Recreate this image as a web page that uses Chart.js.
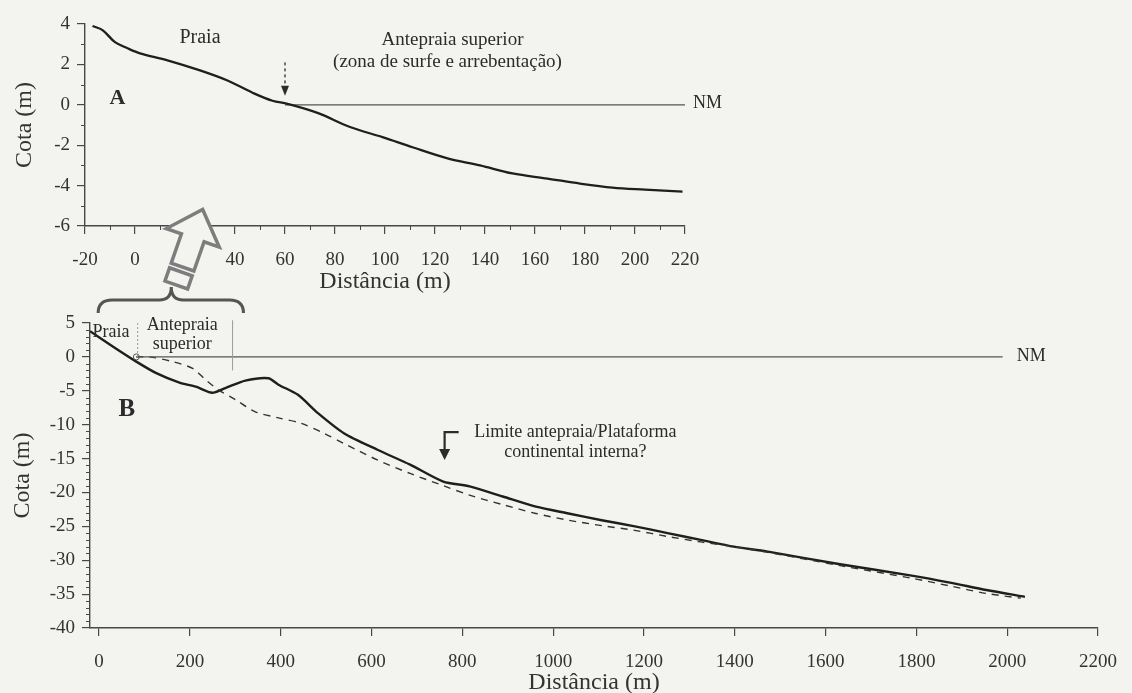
<!DOCTYPE html>
<html>
<head>
<meta charset="utf-8">
<script src="https://cdn.jsdelivr.net/npm/chart.js@4.4.1/dist/chart.umd.min.js"></script>
<style>
  html, body { margin: 0; padding: 0; background: #f3f4f0; }
  #wrap { position: relative; width: 1132px; height: 693px; overflow: hidden; }
  #wrap canvas { position: absolute; left: 0; top: 0; }
</style>
</head>
<body>
<div id="wrap">
  <canvas id="chartA" width="1132" height="693"></canvas>
  <canvas id="chartB" width="1132" height="693"></canvas>
</div>
<script>
// ── Perfil A: praia / antepraia superior ──
var distA = [-17, -13, -8, -3, 2, 13, 26, 37, 47, 55, 61, 73, 86, 99, 111, 125, 138, 151, 165, 178, 191, 204, 219];
var cotaA = [3.9, 3.7, 3.1, 2.8, 2.55, 2.2, 1.7, 1.2, 0.6, 0.2, 0.05, -0.4, -1.1, -1.6, -2.1, -2.65, -3.0, -3.4, -3.65, -3.9, -4.1, -4.2, -4.3];
var nmDistA = [60, 220];
var nmCotaA = [0, 0];
var xTicksA = [-20, 0, 20, 40, 60, 80, 100, 120, 140, 160, 180, 200, 220];
var xMinorA = [-10, 10, 30, 50, 70, 90, 110, 130, 150, 170, 190, 210];
var yTicksA = [-6, -4, -2, 0, 2, 4];
var yMinorA = [-5, -3, -1, 1, 3];

// ── Perfil B: até a plataforma interna ──
var distB = [-20, 31, 82, 126, 177, 213, 249, 278, 322, 373, 395, 438, 482, 540, 613, 685, 758, 816, 889, 962, 1034, 1107, 1180, 1252, 1325, 1398, 1470, 1632, 1793, 1874, 1954, 2039];
var cotaB = [3.8, 1.5, -0.7, -2.4, -3.8, -4.4, -5.3, -4.6, -3.5, -3.15, -4.1, -5.6, -8.3, -11.3, -13.7, -15.9, -18.4, -19.1, -20.6, -22.1, -23.1, -24.1, -25.0, -26.0, -27.0, -28.0, -28.7, -30.6, -32.3, -33.3, -34.4, -35.4];
// perfil tracejado
var distB2 = [82, 111, 162, 206, 235, 264, 300, 344, 395, 445, 496, 540, 613, 685, 758, 816, 889, 962, 1034, 1107, 1180, 1252, 1325, 1398, 1470, 1632, 1793, 1874, 1954, 2030];
var cotaB2 = [0, 0, -0.7, -1.7, -3.4, -4.9, -6.3, -8.1, -9.0, -9.8, -11.3, -12.8, -15.2, -17.2, -19.0, -20.4, -21.8, -23.1, -24.1, -24.9, -25.6, -26.5, -27.3, -28.0, -28.8, -30.8, -32.7, -33.8, -34.9, -35.6];
var nmDistB = [82, 1990];
var nmCotaB = [0, 0];
var xTicksB = [0, 200, 400, 600, 800, 1000, 1200, 1400, 1600, 1800, 2000, 2200];
var yTicksB = [-40, -35, -30, -25, -20, -15, -10, -5, 0, 5];
var yMinorB = [-39, -38, -37, -36, -34, -33, -32, -31, -29, -28, -27, -26, -24, -23, -22, -21,
               -19, -18, -17, -16, -14, -13, -12, -11, -9, -8, -7, -6, -4, -3, -2, -1, 1, 2, 3, 4];

var FONT = 'Liberation Serif';
var INK = '#2b2b2b';
var AXIS = '#474747';
var BG = '#f3f4f0';

function pts(xs, ys) {
  return xs.map(function(x, i) { return { x: x, y: ys[i] }; });
}

function label(ctx, text, x, y, size, align, bold) {
  ctx.save();
  ctx.fillStyle = INK;
  ctx.font = (bold ? 'bold ' : '') + size + 'px "' + FONT + '"';
  ctx.textAlign = align || 'center';
  ctx.textBaseline = 'middle';
  ctx.fillText(text, x, y);
  ctx.restore();
}

function arrowHead(ctx, x, y, w, h) {
  // ponta para baixo em (x, y)
  ctx.beginPath();
  ctx.moveTo(x, y);
  ctx.lineTo(x - w / 2, y - h);
  ctx.lineTo(x + w / 2, y - h);
  ctx.closePath();
  ctx.fill();
}

// ── marcas secundárias (mais curtas) ──
function minorTicks(chart, xList, yList) {
  var ctx = chart.ctx, xs = chart.scales.x, ys = chart.scales.y;
  ctx.save();
  ctx.strokeStyle = AXIS;
  ctx.lineWidth = 1;
  ctx.beginPath();
  xList.forEach(function(v) {
    var p = Math.round(xs.getPixelForValue(v)) + 0.5;
    ctx.moveTo(p, ys.bottom);
    ctx.lineTo(p, ys.bottom + 4);
  });
  yList.forEach(function(v) {
    var p = Math.round(ys.getPixelForValue(v)) + 0.5;
    ctx.moveTo(xs.left, p);
    ctx.lineTo(xs.left - 4, p);
  });
  ctx.stroke();
  ctx.restore();
}

// ── eixo comum ──
function axis(min, max, tickList, title, isX, size, titlePad) {
  return {
    type: 'linear',
    min: min,
    max: max,
    afterBuildTicks: function(s) { s.ticks = tickList.map(function(v) { return { value: v }; }); },
    afterFit: function(s) { if (isX) { s.height = size; } else { s.width = size; } },
    border: { display: true, color: AXIS, width: 1.4 },
    grid: { drawOnChartArea: false, drawTicks: true, tickLength: 8, color: AXIS, lineWidth: 1.2 },
    ticks: {
      autoSkip: false,
      maxRotation: 0,
      color: '#333',
      font: { family: FONT, size: 19 },
      padding: isX ? 15 : 7,
      callback: function(v) { return String(v); }
    },
    title: {
      display: true,
      text: title,
      color: '#333',
      font: { family: FONT, size: 24, lineHeight: 1.2 },
      padding: titlePad
    }
  };
}

// ── Gráfico A ──
var annotA = {
  id: 'annotA',
  afterDraw: function(chart) {
    var ctx = chart.ctx, xs = chart.scales.x, ys = chart.scales.y;
    minorTicks(chart, xMinorA, yMinorA);

    label(ctx, 'Praia', xs.getPixelForValue(26), ys.getPixelForValue(3.3), 20);
    label(ctx, 'Antepraia superior', xs.getPixelForValue(127), ys.getPixelForValue(3.2), 19);
    label(ctx, '(zona de surfe e arrebentação)', xs.getPixelForValue(125), ys.getPixelForValue(2.1), 19);
    label(ctx, 'A', xs.getPixelForValue(-7), ys.getPixelForValue(0.3), 22, 'center', true);
    label(ctx, 'NM', xs.getPixelForValue(220) + 8, ys.getPixelForValue(0.1), 18, 'left');

    // seta tracejada em 60 m
    var ax = xs.getPixelForValue(60);
    var tip = ys.getPixelForValue(0.45);
    ctx.save();
    ctx.strokeStyle = INK;
    ctx.fillStyle = INK;
    ctx.lineWidth = 1.3;
    ctx.setLineDash([3, 3]);
    ctx.beginPath();
    ctx.moveTo(ax, ys.getPixelForValue(2.1));
    ctx.lineTo(ax, tip - 9);
    ctx.stroke();
    ctx.setLineDash([]);
    arrowHead(ctx, ax, tip, 8, 10);
    ctx.restore();
  }
};

new Chart(document.getElementById('chartA'), {
  type: 'line',
  data: {
    datasets: [
      { data: pts(distA, cotaA), borderColor: '#1e1e1e', borderWidth: 2.3, pointRadius: 0, tension: 0.35, fill: false },
      { data: pts(nmDistA, nmCotaA), borderColor: '#555', borderWidth: 1.3, pointRadius: 0, fill: false }
    ]
  },
  options: {
    responsive: false,
    animation: false,
    devicePixelRatio: 1,
    layout: { padding: { left: 0, top: 24, right: 447, bottom: 397 } },
    plugins: { legend: { display: false }, tooltip: { enabled: false } },
    scales: {
      x: axis(-20, 220, xTicksA, 'Distância (m)', true, 70, { top: 0, bottom: 0 }),
      y: axis(-6, 4, yTicksA, 'Cota (m)', false, 85, { top: 10, bottom: 0 })
    }
  },
  plugins: [annotA]
});

// ── Gráfico B ──
var annotB = {
  id: 'annotB',
  afterDraw: function(chart) {
    var ctx = chart.ctx, xs = chart.scales.x, ys = chart.scales.y;
    var top = ys.top;
    minorTicks(chart, [], yMinorB);

    label(ctx, 'Praia', xs.getPixelForValue(26), ys.getPixelForValue(3.7), 18);
    label(ctx, 'Antepraia', xs.getPixelForValue(183), ys.getPixelForValue(4.7), 18);
    label(ctx, 'superior', xs.getPixelForValue(183), ys.getPixelForValue(1.8), 18);
    label(ctx, 'B', xs.getPixelForValue(61), ys.getPixelForValue(-7.8), 25, 'center', true);
    label(ctx, 'Limite antepraia/Plataforma', xs.getPixelForValue(1049), ys.getPixelForValue(-11.1), 18);
    label(ctx, 'continental interna?', xs.getPixelForValue(1049), ys.getPixelForValue(-14.0), 18);
    label(ctx, 'NM', xs.getPixelForValue(1990) + 14, ys.getPixelForValue(0.1), 18, 'left');

    ctx.save();
    // divisões praia / antepraia
    ctx.strokeStyle = '#9a9a9a';
    ctx.lineWidth = 1;
    ctx.setLineDash([2, 2]);
    ctx.beginPath();
    ctx.moveTo(xs.getPixelForValue(85), ys.getPixelForValue(5));
    ctx.lineTo(xs.getPixelForValue(85), ys.getPixelForValue(0));
    ctx.stroke();
    ctx.setLineDash([]);
    ctx.beginPath();
    ctx.moveTo(xs.getPixelForValue(294), ys.getPixelForValue(5.4));
    ctx.lineTo(xs.getPixelForValue(294), ys.getPixelForValue(-2));
    ctx.stroke();

    // pequeno círculo no início do perfil tracejado
    ctx.strokeStyle = '#555';
    ctx.beginPath();
    ctx.arc(xs.getPixelForValue(82), ys.getPixelForValue(0), 3, 0, Math.PI * 2);
    ctx.stroke();

    // seta em cotovelo
    ctx.strokeStyle = INK;
    ctx.fillStyle = INK;
    ctx.lineWidth = 2.2;
    var bx = xs.getPixelForValue(761);
    var btip = ys.getPixelForValue(-15.2);
    ctx.beginPath();
    ctx.moveTo(xs.getPixelForValue(792), ys.getPixelForValue(-11.1));
    ctx.lineTo(bx, ys.getPixelForValue(-11.1));
    ctx.lineTo(bx, btip - 9);
    ctx.stroke();
    arrowHead(ctx, bx, btip, 11, 11);

    // chave sobre praia + antepraia
    var l = xs.getPixelForValue(-2), r = xs.getPixelForValue(318), m = xs.getPixelForValue(159);
    var yb = top - 10, yf = top - 23, yp = top - 36;
    ctx.strokeStyle = '#555';
    ctx.lineWidth = 3;
    ctx.beginPath();
    ctx.moveTo(l, yb);
    ctx.quadraticCurveTo(l, yf, l + 14, yf);
    ctx.lineTo(m - 12, yf);
    ctx.quadraticCurveTo(m, yf, m, yp);
    ctx.quadraticCurveTo(m, yf, m + 12, yf);
    ctx.lineTo(r - 14, yf);
    ctx.quadraticCurveTo(r, yf, r, yb);
    ctx.stroke();

    // seta vazada apontando para o perfil A
    var ox = xs.getPixelForValue(170), oy = top - 38;
    var ux = 0.33, uy = -0.944, vx = 0.944, vy = 0.33;
    function P(a, b) { return [ox + ux * a + vx * b, oy + uy * a + vy * b]; }
    function poly(list) {
      ctx.beginPath();
      list.forEach(function(p, i) {
        var q = P(p[0], p[1]);
        if (i === 0) ctx.moveTo(q[0], q[1]); else ctx.lineTo(q[0], q[1]);
      });
      ctx.closePath();
      ctx.fill();
      ctx.stroke();
    }
    ctx.strokeStyle = '#7d7d7d';
    ctx.fillStyle = BG;
    ctx.lineWidth = 3.5;
    ctx.lineJoin = 'miter';
    poly([[0, -12], [14, -12], [14, 12], [0, 12]]);
    poly([[19, -12], [50, -12], [50, -28], [80, 0], [50, 28], [50, 12], [19, 12]]);
    ctx.restore();
  }
};

new Chart(document.getElementById('chartB'), {
  type: 'line',
  data: {
    datasets: [
      { data: pts(nmDistB, nmCotaB), borderColor: '#555', borderWidth: 1.3, pointRadius: 0, fill: false },
      { data: pts(distB2, cotaB2), borderColor: '#333', borderWidth: 1.4, borderDash: [7, 6], pointRadius: 0, tension: 0.3, fill: false },
      { data: pts(distB, cotaB), borderColor: '#1e1e1e', borderWidth: 2.4, pointRadius: 0, tension: 0.25, fill: false }
    ]
  },
  options: {
    responsive: false,
    animation: false,
    devicePixelRatio: 1,
    layout: { padding: { left: 0, top: 323, right: 24, bottom: 0 } },
    plugins: { legend: { display: false }, tooltip: { enabled: false } },
    scales: {
      x: axis(-20, 2200, xTicksB, 'Distância (m)', true, 65, { top: 0, bottom: -4 }),
      y: axis(-40, 5, yTicksB, 'Cota (m)', false, 90, { top: 8, bottom: 0 })
    }
  },
  plugins: [annotB]
});
</script>
</body>
</html>
